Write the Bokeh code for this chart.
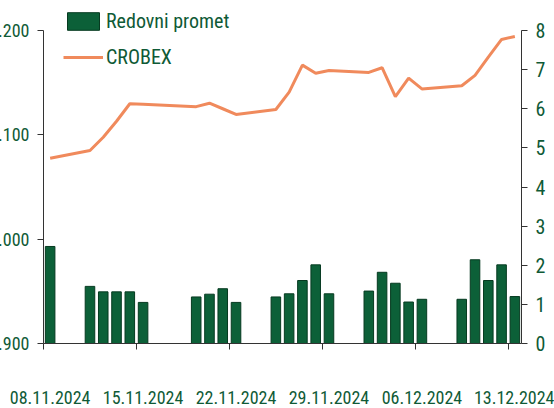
from datetime import datetime
from bokeh.plotting import figure
from bokeh.models import (Range1d, LinearAxis, FixedTicker, Legend,
                          LegendItem, ColumnDataSource)
from bokeh.embed import file_html
from bokeh.resources import INLINE

# ---------------- data ----------------
dates = ["08.11.2024", "11.11.2024", "12.11.2024", "13.11.2024", "14.11.2024", "15.11.2024",
         "19.11.2024", "20.11.2024", "21.11.2024", "22.11.2024",
         "25.11.2024", "26.11.2024", "27.11.2024", "28.11.2024", "29.11.2024",
         "02.12.2024", "03.12.2024", "04.12.2024", "05.12.2024", "06.12.2024",
         "09.12.2024", "10.12.2024", "11.12.2024", "12.12.2024", "13.12.2024"]
redovni_promet = [2.48, 1.46, 1.32, 1.32, 1.32, 1.05,
                  1.19, 1.26, 1.40, 1.05,
                  1.19, 1.27, 1.61, 2.01, 1.27,
                  1.34, 1.82, 1.54, 1.06, 1.13,
                  1.13, 2.14, 1.61, 2.01, 1.20]
crobex = [3077.6, 3085.0, 3097.7, 3113.0, 3129.8, 3129.4,
          3127.0, 3130.3, 3125.0, 3119.5,
          3124.3, 3140.9, 3166.8, 3159.0, 3161.7,
          3159.8, 3164.3, 3136.7, 3154.3, 3144.0,
          3147.0, 3157.0, 3174.4, 3191.4, 3194.3]
x_tick_dates = ["08.11.2024", "15.11.2024", "22.11.2024", "29.11.2024", "06.12.2024", "13.12.2024"]
x_start, x_end = "08.11.2024", "14.12.2024"
left_ticks = [2900, 3000, 3100, 3200]
left_tick_labels = ["2.900", "3.000", "3.100", "3.200"]
right_ticks = [0, 1, 2, 3, 4, 5, 6, 7, 8]
left_range = (2900, 3223.96)   # top padding so the legend sits inside the frame
right_range = (0, 8.639)

# ---------------- helpers ----------------
EPOCH = datetime(1970, 1, 1)
DAY_MS = 86400000


def ms(s):
    return int((datetime.strptime(s, "%d.%m.%Y") - EPOCH).total_seconds() * 1000)


FONT = "'Roboto Condensed', Roboto, sans-serif"
TXT = "#0f5a36"
AX = "#333333"
D = 14  # left overflow clipped by the window edge (as in the reference)

src = ColumnDataSource(dict(
    x=[ms(d) + DAY_MS // 2 for d in dates],
    promet=redovni_promet,
    crobex=crobex,
))

p = figure(width=554 + D, height=408,
           x_range=Range1d(ms(x_start), ms(x_end)),
           y_range=Range1d(*left_range),
           output_backend="svg", toolbar_location=None,
           min_border_left=43 + D, min_border_right=33,
           min_border_top=5, min_border_bottom=65,
           x_axis_type="datetime", margin=(0, 0, 0, -D))
p.extra_y_ranges = {"vol": Range1d(*right_range)}
p.outline_line_color = None
p.xgrid.visible = False
p.ygrid.visible = False
p.background_fill_color = "white"
p.border_fill_color = "white"

bars = p.vbar(x="x", top="promet", bottom=0, width=0.72 * DAY_MS, source=src,
              y_range_name="vol", fill_color="#0c6038", line_color="#063a20", line_width=1)
line = p.line(x="x", y="crobex", source=src, line_color="#f08a5c", line_width=3)

# bottom axis: labels centred on the day slot, tick marks at day boundaries
xa = p.xaxis[0]
xa.ticker = FixedTicker(ticks=[ms(d) + DAY_MS // 2 for d in x_tick_dates],
                        minor_ticks=[ms(d) for d in x_tick_dates])
xa.major_label_overrides = {ms(d) + DAY_MS // 2: d for d in x_tick_dates}
xa.major_tick_line_color = None
xa.major_tick_out = 6
xa.major_tick_in = 0
xa.minor_tick_out = 6
xa.minor_tick_in = 0
xa.minor_tick_line_color = AX
xa.axis_line_color = AX
xa.major_label_standoff = 41
xa.major_label_text_font = FONT
xa.major_label_text_font_size = "18px"
xa.major_label_text_color = TXT

# left axis
ya = p.yaxis[0]
ya.ticker = FixedTicker(ticks=left_ticks)
ya.bounds = (left_ticks[0], left_ticks[-1])
ya.major_label_overrides = {t: l for t, l in zip(left_ticks, left_tick_labels)}
ya.major_tick_out = 6
ya.major_tick_in = 0
ya.minor_tick_line_color = None
ya.major_label_standoff = 8
ya.major_label_text_font = FONT
ya.major_label_text_font_size = "18px"
ya.major_label_text_color = TXT
ya.axis_line_color = AX
ya.major_tick_line_color = AX

# right axis
yr = LinearAxis(y_range_name="vol", ticker=FixedTicker(ticks=right_ticks),
                bounds=(right_ticks[0], right_ticks[-1]))
yr.major_tick_out = 6
yr.major_tick_in = 0
yr.minor_tick_line_color = None
yr.major_label_standoff = 8
yr.major_label_text_font = FONT
yr.major_label_text_font_size = "20px"
yr.major_label_text_color = TXT
yr.axis_line_color = AX
yr.major_tick_line_color = AX
p.add_layout(yr, "right")

legend = Legend(items=[LegendItem(label="Redovni promet", renderers=[bars]),
                       LegendItem(label="CROBEX", renderers=[line])],
                location=(20, 274), orientation="vertical",
                glyph_width=40, glyph_height=22, label_height=22, spacing=12,
                label_standoff=3, padding=0, margin=0,
                border_line_color=None, background_fill_alpha=0,
                label_text_font=FONT, label_text_font_size="20px",
                label_text_color=TXT)
p.add_layout(legend, "center")

open("out.html", "w").write(file_html(p, INLINE))
